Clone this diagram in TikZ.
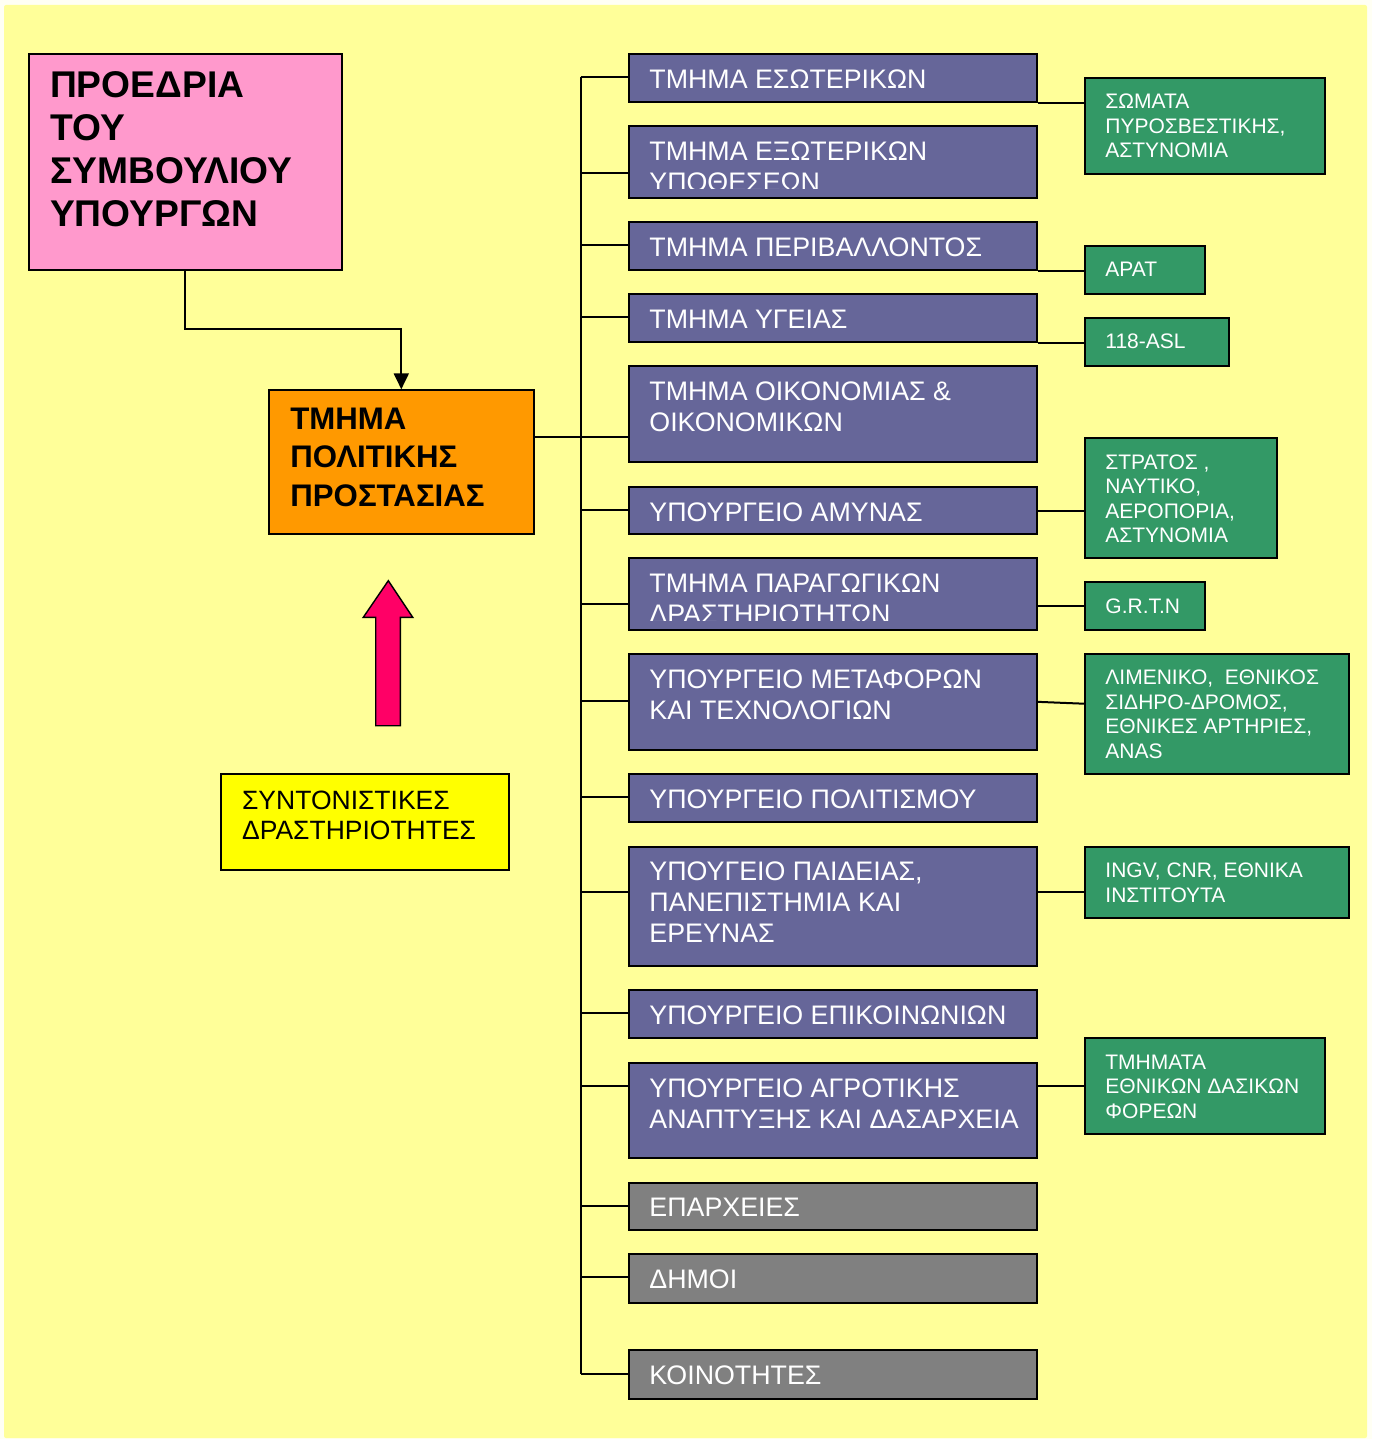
\documentclass[tikz,border=0pt]{standalone}
\usepackage{fontspec}
\setmainfont{Liberation Sans}
\usetikzlibrary{arrows.meta,calc}

\definecolor{page}{HTML}{FFFFF4}
\definecolor{bgyellow}{HTML}{FFFF99}
\definecolor{deptblue}{HTML}{666699}
\definecolor{agencygreen}{HTML}{339966}
\definecolor{localgrey}{HTML}{808080}
\definecolor{civilorange}{HTML}{FF9900}
\definecolor{presidpink}{HTML}{FF99CC}
\definecolor{coordyellow}{HTML}{FFFF00}
\definecolor{arrowpink}{HTML}{FF0066}

% rectangle node from (x1,y1) to (x2,y2): name, fill, x1, y1, x2, y2
\newcommand\orgbox[6]{%
  \node[orgrect, fill=#2, minimum width={(#5-#3)*0.5pt}, minimum height={(#6-#4)*0.5pt}] (#1) at (#3,#4) {};}
% text of a box: box name, style, offset from the box corner, text
\newcommand\orgtext[4]{%
  \node[anchor=north west, inner sep=0pt, align=left, #2] (#1t) at ($(#1.north west)+(#3)$) {\rule{0pt}{15pt}#4};}

\begin{document}
\begin{tikzpicture}[x=0.5pt,y=-0.5pt,
  orgrect/.style={draw=black, line width=1pt, rectangle, inner sep=0pt, anchor=north west},
  conn/.style={draw=black, line width=1pt},
  depttext/.style={text=white, font=\fontsize{13.4pt}{15.5pt}\selectfont},
  agencytext/.style={text=white, font=\fontsize{10.5pt}{12.25pt}\selectfont},
  headtext/.style={text=black, font=\fontsize{18.6pt}{21.5pt}\selectfont\bfseries},
  civiltext/.style={text=black, font=\fontsize{15.6pt}{19.25pt}\selectfont\bfseries},
  coordtext/.style={text=black, font=\fontsize{13.25pt}{15pt}\selectfont}]

% page and backdrop
\fill[page] (0,0) rectangle (1372,1439);
\fill[bgyellow, rounded corners=1pt] (4,5) rectangle (1367,1438);
\useasboundingbox (0,0) rectangle (1372,1439);

% left column
\orgbox{pres}{presidpink}{27.7}{52.9}{340.6}{268.6}
\orgtext{pres}{headtext}{22,14.5}{ΠΡΟΕΔΡΙΑ\\ΤΟΥ\\ΣΥΜΒΟΥΛΙΟΥ\\ΥΠΟΥΡΓΩΝ}
\orgbox{civil}{civilorange}{268}{389.3}{532.6}{533.2}
\orgtext{civil}{civiltext}{22,9.6}{ΤΜΗΜΑ\\ΠΟΛΙΤΙΚΗΣ\\ΠΡΟΣΤΑΣΙΑΣ}
\orgbox{coord}{coordyellow}{220}{773.3}{508.3}{869.3}
\orgtext{coord}{coordtext}{21.7,6}{ΣΥΝΤΟΝΙΣΤΙΚΕΣ\\ΔΡΑΣΤΗΡΙΟΤΗΤΕΣ}

% block arrow pointing up
\filldraw[fill=arrowpink, draw=black, line width=0.7pt, line join=miter]
  (388.3,580.7) -- (412.7,617.3) -- (400.3,617.3) -- (400.3,725.7)
  -- (375.7,725.7) -- (375.7,617.3) -- (363.3,617.3) -- cycle;

% departments and ministries
\orgbox{b1}{deptblue}{628}{53}{1036}{101}
\orgtext{b1}{depttext}{21,5}{ΤΜΗΜΑ ΕΣΩΤΕΡΙΚΩΝ}
\orgbox{b2}{deptblue}{628}{125}{1036}{196.7}
\begin{scope}
  \clip (b2.north west) rectangle ($(b2.south east)+(0,-10)$);
  \orgtext{b2}{depttext}{21,5}{ΤΜΗΜΑ ΕΞΩΤΕΡΙΚΩΝ\\ΥΠΟΘΕΣΕΩΝ}
\end{scope}
\orgbox{b3}{deptblue}{628}{221}{1036}{269}
\orgtext{b3}{depttext}{21,5}{ΤΜΗΜΑ ΠΕΡΙΒΑΛΛΟΝΤΟΣ}
\orgbox{b4}{deptblue}{628}{293.3}{1036}{341}
\orgtext{b4}{depttext}{21,5}{ΤΜΗΜΑ ΥΓΕΙΑΣ}
\orgbox{b5}{deptblue}{628}{365}{1036}{461}
\orgtext{b5}{depttext}{21,5}{ΤΜΗΜΑ ΟΙΚΟΝΟΜΙΑΣ \&\\ΟΙΚΟΝΟΜΙΚΩΝ}
\orgbox{b6}{deptblue}{628}{485.7}{1036}{533.3}
\orgtext{b6}{depttext}{21,5}{ΥΠΟΥΡΓΕΙΟ ΑΜΥΝΑΣ}
\orgbox{b7}{deptblue}{628}{556.7}{1036}{629.3}
\begin{scope}
  \clip (b7.north west) rectangle ($(b7.south east)+(0,-11)$);
  \orgtext{b7}{depttext}{21,5}{ΤΜΗΜΑ ΠΑΡΑΓΩΓΙΚΩΝ\\ΔΡΑΣΤΗΡΙΟΤΗΤΩΝ}
\end{scope}
\orgbox{b8}{deptblue}{628}{652.7}{1036}{749}
\orgtext{b8}{depttext}{21,5}{ΥΠΟΥΡΓΕΙΟ ΜΕΤΑΦΟΡΩΝ\\ΚΑΙ ΤΕΧΝΟΛΟΓΙΩΝ}
\orgbox{b9}{deptblue}{628}{773.3}{1036}{820.7}
\orgtext{b9}{depttext}{21,5}{ΥΠΟΥΡΓΕΙΟ ΠΟΛΙΤΙΣΜΟΥ}
\orgbox{b10}{deptblue}{628}{845.5}{1036}{965}
\orgtext{b10}{depttext}{21,5}{ΥΠΟΥΓΕΙΟ ΠΑΙΔΕΙΑΣ,\\ΠΑΝΕΠΙΣΤΗΜΙΑ ΚΑΙ\\ΕΡΕΥΝΑΣ}
\orgbox{b11}{deptblue}{628}{989}{1036}{1037}
\orgtext{b11}{depttext}{21,5}{ΥΠΟΥΡΓΕΙΟ ΕΠΙΚΟΙΝΩΝΙΩΝ}
\orgbox{b12}{deptblue}{628}{1061.8}{1036}{1157.4}
\orgtext{b12}{depttext}{21,5}{ΥΠΟΥΡΓΕΙΟ ΑΓΡΟΤΙΚΗΣ\\ΑΝΑΠΤΥΞΗΣ ΚΑΙ ΔΑΣΑΡΧΕΙΑ}
\orgbox{b13}{localgrey}{628}{1181.5}{1036}{1229}
\orgtext{b13}{depttext}{21,5}{ΕΠΑΡΧΕΙΕΣ}
\orgbox{b14}{localgrey}{628}{1253}{1036}{1302}
\orgtext{b14}{depttext}{21,5}{ΔΗΜΟΙ}
\orgbox{b15}{localgrey}{628}{1349}{1036}{1397.8}
\orgtext{b15}{depttext}{21,5}{ΚΟΙΝΟΤΗΤΕΣ}

% operational bodies
\orgbox{g1}{agencygreen}{1084}{76.7}{1324}{172.7}
\orgtext{g1}{agencytext}{21,1.6}{ΣΩΜΑΤΑ\\ΠΥΡΟΣΒΕΣΤΙΚΗΣ,\\ΑΣΤΥΝΟΜΙΑ}
\orgbox{g3}{agencygreen}{1084}{245}{1204}{293.3}
\orgtext{g3}{agencytext}{21,1.6}{APAT}
\orgbox{g4}{agencygreen}{1084}{316.7}{1228}{365}
\orgtext{g4}{agencytext}{21,1.6}{118-ASL}
\orgbox{g6}{agencygreen}{1084}{437.3}{1276}{557.3}
\orgtext{g6}{agencytext}{21,1.6}{ΣΤΡΑΤΟΣ ,\\ΝΑΥΤΙΚΟ,\\ΑΕΡΟΠΟΡΙΑ,\\ΑΣΤΥΝΟΜΙΑ}
\orgbox{g7}{agencygreen}{1084}{581}{1204}{629.3}
\orgtext{g7}{agencytext}{21,1.6}{G.R.T.N}
\orgbox{g8}{agencygreen}{1084}{652.7}{1348}{772.7}
\orgtext{g8}{agencytext}{21,1.6}{ΛΙΜΕΝΙΚΟ,\ \ ΕΘΝΙΚΟΣ\\ΣΙΔΗΡΟ-ΔΡΟΜΟΣ,\\ΕΘΝΙΚΕΣ ΑΡΤΗΡΙΕΣ,\\ANAS}
\orgbox{g10}{agencygreen}{1084}{845.5}{1348}{917.4}
\orgtext{g10}{agencytext}{21,1.6}{INGV, CNR, ΕΘΝΙΚΑ\\ΙΝΣΤΙΤΟΥΤΑ}
\orgbox{g12}{agencygreen}{1084}{1037}{1324}{1133}
\orgtext{g12}{agencytext}{21,1.6}{ΤΜΗΜΑΤΑ\\ΕΘΝΙΚΩΝ ΔΑΣΙΚΩΝ\\ΦΟΡΕΩΝ}

% presidency to civil protection
\coordinate (bend) at (civil.north |- 0,329);
\draw[conn, -{Triangle[width=7.5pt,length=8pt]}] (pres.south) |- (bend) -- (civil.north);

% trunk and branches
\coordinate (t1) at (580.5,77);
\coordinate (t2) at (580.5,172.7);
\coordinate (t3) at (580.5,245);
\coordinate (t4) at (580.5,316.7);
\coordinate (t5) at (580.5,436.7);
\coordinate (t6) at (580.5,509.5);
\coordinate (t7) at (580.5,604);
\coordinate (t8) at (580.5,701);
\coordinate (t9) at (580.5,797);
\coordinate (t10) at (580.5,892);
\coordinate (t11) at (580.5,1012.5);
\coordinate (t12) at (580.5,1085.5);
\coordinate (t13) at (580.5,1205.5);
\coordinate (t14) at (580.5,1277.4);
\coordinate (t15) at (580.5,1373.7);
\draw[conn] (t1) -- (t15);
\foreach \i in {1,...,15} {\draw[conn] (t\i) -- (t\i -| b\i.west);}
\draw[conn] (civil.east |- t5) -- (t5);

% departments to operational bodies
\draw[conn] (b1.south east) -- (b1.south east -| g1.west);
\draw[conn] (b3.south east) -- (b3.south east -| g3.west);
\draw[conn] (b4.south east) -- (b4.south east -| g4.west);
\draw[conn] (b6.east) -- (b6.east -| g6.west);
\draw[conn] (g7.west -| b7.east) -- (g7.west);
\draw[conn] (b8.east) -- ($(g8.west)+(0,-10)$);
\draw[conn] (t10 -| b10.east) -- (t10 -| g10.west);
\draw[conn] (g12.west -| b12.east) -- (g12.west);
\end{tikzpicture}
\end{document}
